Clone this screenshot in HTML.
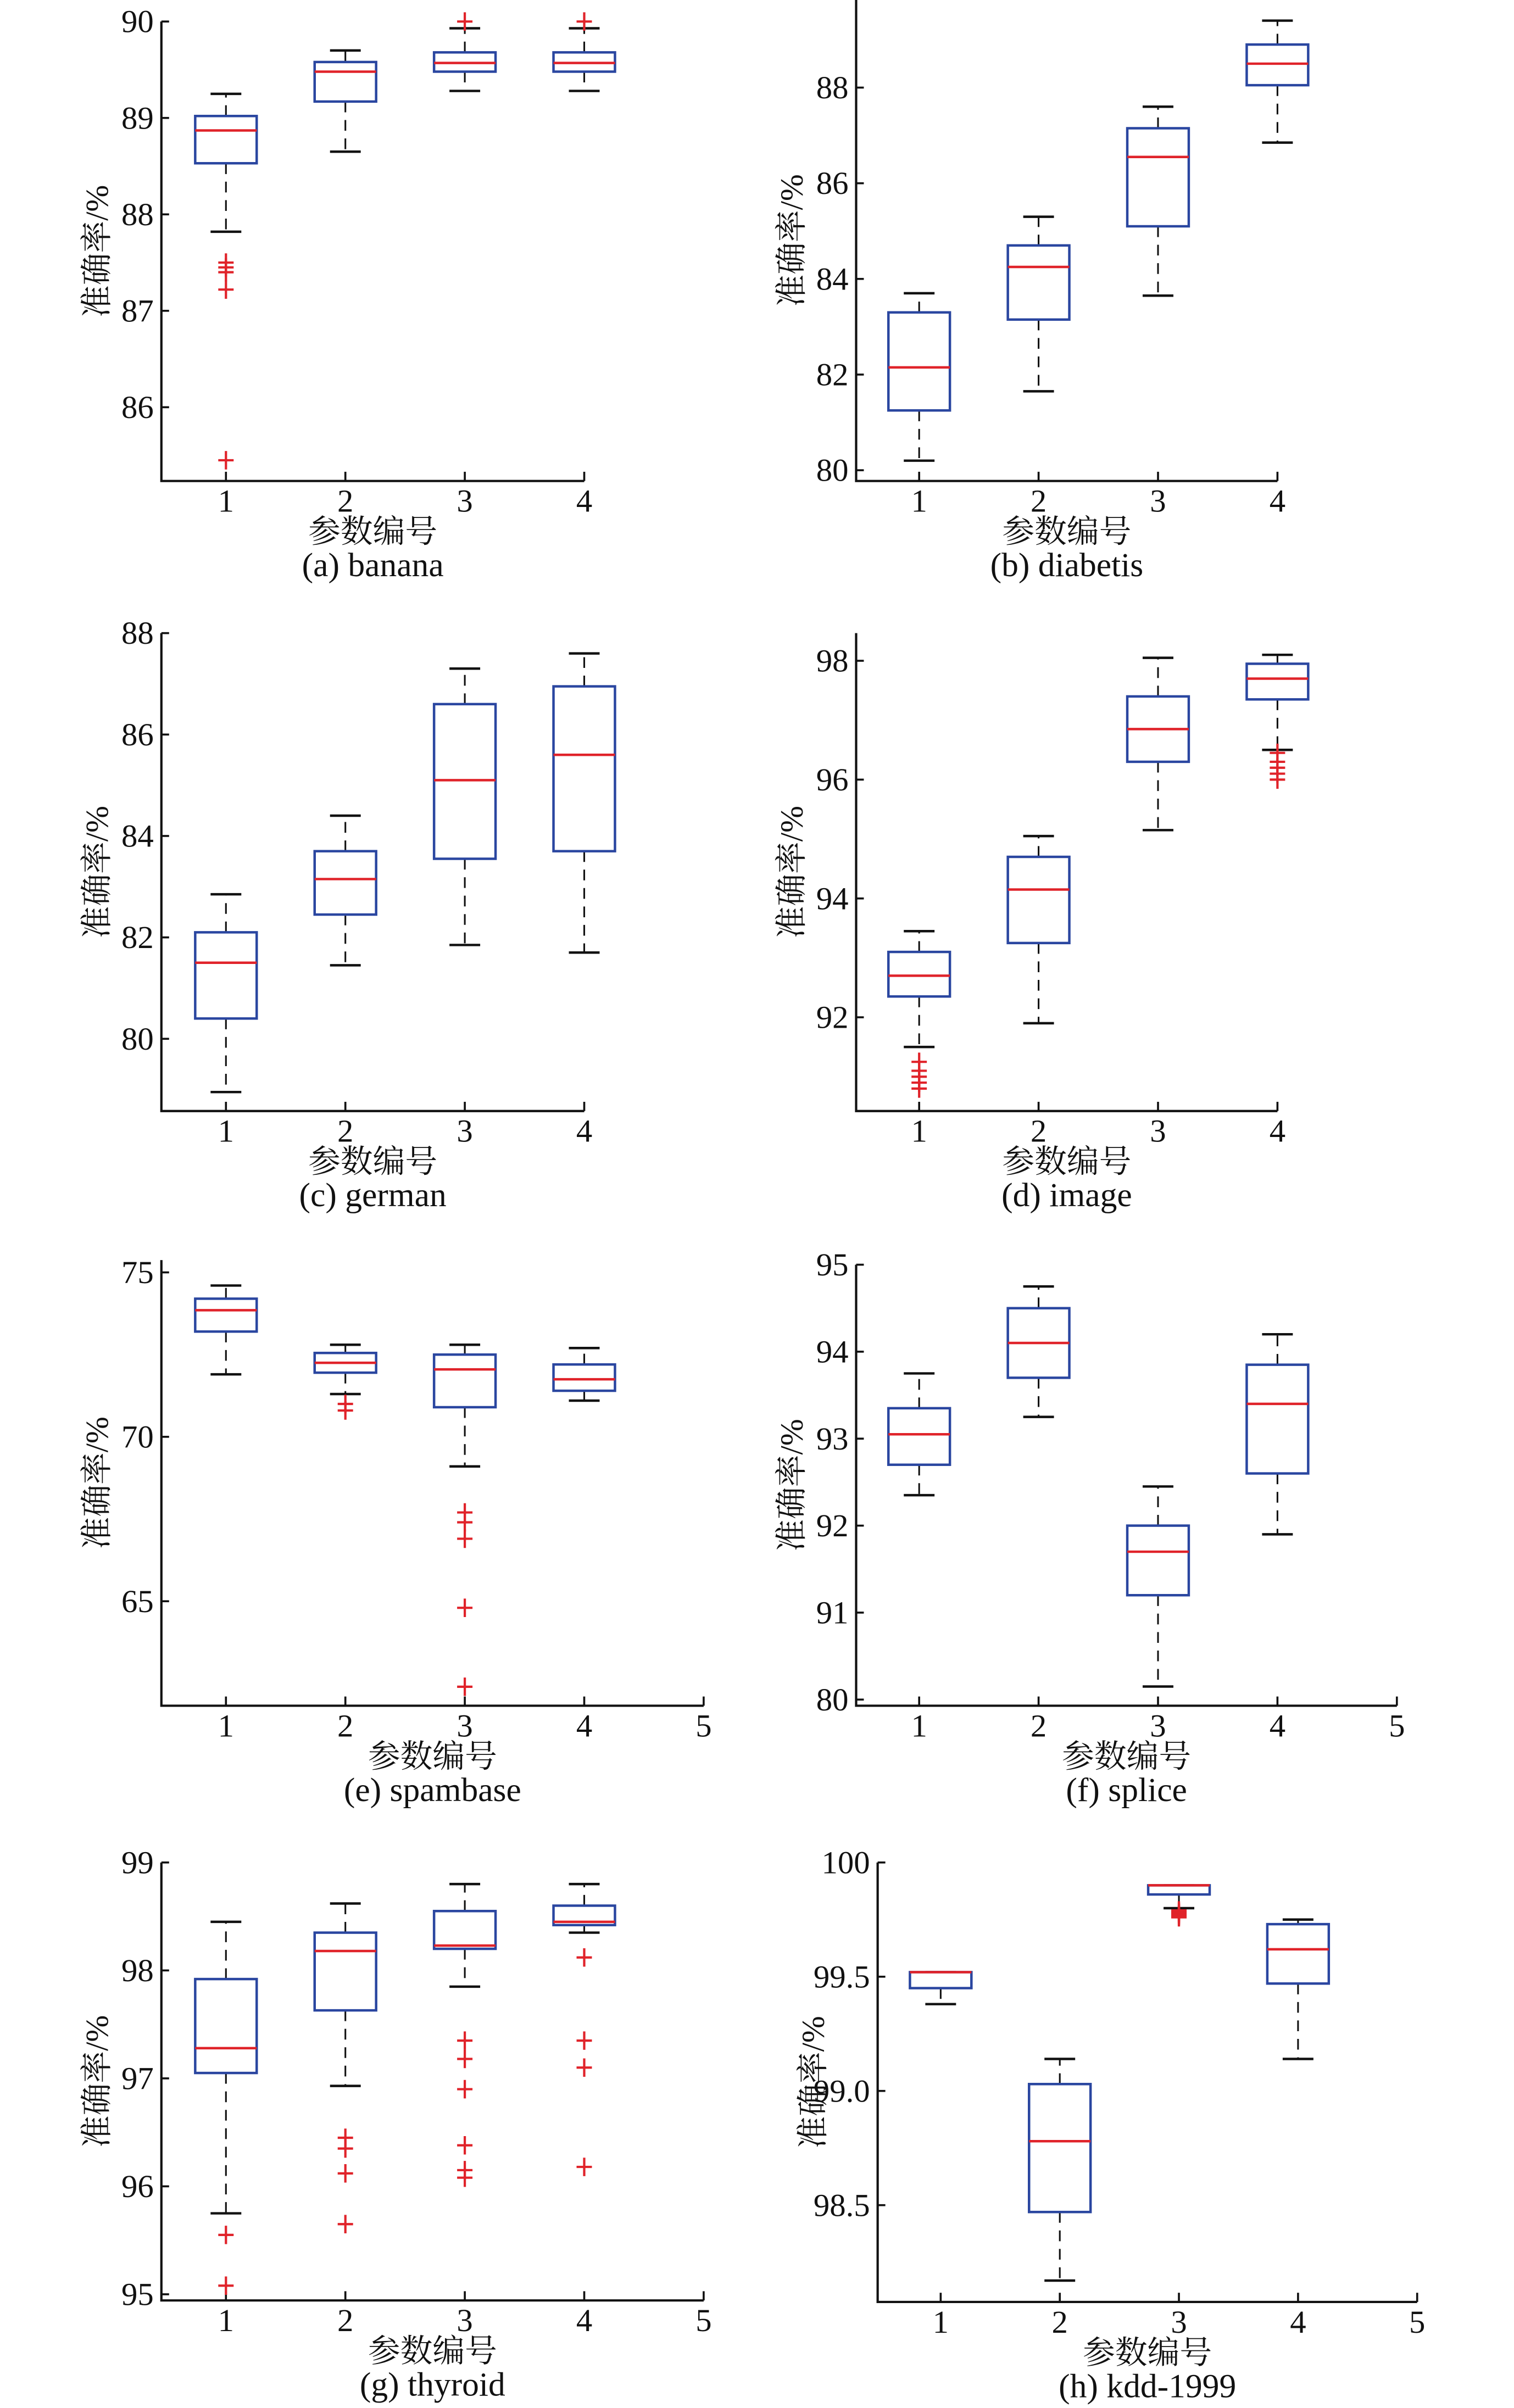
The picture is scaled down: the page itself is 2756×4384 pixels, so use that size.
<!DOCTYPE html>
<html><head><meta charset="utf-8"><style>
html,body{margin:0;padding:0;background:#fff;}
svg{display:block;}
text{font-family:"Liberation Serif","Noto Serif CJK SC",serif;fill:#111;}
</style></head><body>
<svg id="fig" width="2756" height="4384" viewBox="0 0 985 1567" preserveAspectRatio="none" xmlns="http://www.w3.org/2000/svg"></svg>
<script>
// ---------- data ----------
const bananaLo=[87.82,88.65,89.28,89.28], bananaQ1=[88.53,89.17,89.48,89.48], bananaMed=[88.87,89.48,89.57,89.57], bananaQ3=[89.02,89.58,89.68,89.68], bananaHi=[89.25,89.7,89.93,89.93];
const bananaOut=[[87.5,87.45,87.4,87.22,85.45],[],[90.0],[90.0]];
const diabetisLo=[80.2,81.65,83.65,86.85], diabetisQ1=[81.25,83.15,85.1,88.05], diabetisMed=[82.15,84.25,86.55,88.5], diabetisQ3=[83.3,84.7,87.15,88.9], diabetisHi=[83.7,85.3,87.6,89.4];
const diabetisOut=[[],[],[],[]];
const germanLo=[78.95,81.45,81.85,81.7], germanQ1=[80.4,82.45,83.55,83.7], germanMed=[81.5,83.15,85.1,85.6], germanQ3=[82.1,83.7,86.6,86.95], germanHi=[82.85,84.4,87.3,87.6];
const germanOut=[[],[],[],[]];
const imageLo=[91.5,91.9,95.15,96.5], imageQ1=[92.35,93.25,96.3,97.35], imageMed=[92.7,94.15,96.85,97.7], imageQ3=[93.1,94.7,97.4,97.95], imageHi=[93.45,95.05,98.05,98.1];
const imageOut=[[91.25,91.1,91.0,90.9,90.8],[],[],[96.45,96.3,96.2,96.1,96.0]];
const spamLo=[71.9,71.3,69.1,71.1], spamQ1=[73.2,71.95,70.9,71.4], spamMed=[73.85,72.25,72.05,71.75], spamQ3=[74.2,72.55,72.5,72.2], spamHi=[74.6,72.8,72.8,72.7];
const spamOut=[[],[71.0,70.8],[67.7,67.4,66.9,64.8,62.4],[]];
const spliceLo=[92.35,93.25,90.15,91.9], spliceQ1=[92.7,93.7,91.2,92.6], spliceMed=[93.05,94.1,91.7,93.4], spliceQ3=[93.35,94.5,92.0,93.85], spliceHi=[93.75,94.75,92.45,94.2];
const spliceOut=[[],[],[],[]];
const thyroidLo=[95.75,96.93,97.85,98.35], thyroidQ1=[97.05,97.63,98.2,98.42], thyroidMed=[97.28,98.18,98.23,98.45], thyroidQ3=[97.92,98.35,98.55,98.6], thyroidHi=[98.45,98.62,98.8,98.8];
const thyroidOut=[[95.55,95.08],[96.45,96.35,96.12,95.65],[97.35,97.18,96.9,96.38,96.15,96.08],[98.12,97.35,97.1,96.18]];
const kddLo=[99.38,98.17,99.8,99.14], kddQ1=[99.45,98.47,99.86,99.47], kddMed=[99.52,98.78,99.9,99.62], kddQ3=[99.52,99.03,99.9,99.73], kddHi=[99.52,99.14,99.9,99.75];
const kddOut=[[],[],[99.79,99.785,99.78,99.775,99.77,99.765,99.76],[]];
const bananaTicks=[86,87,88,89,90], diabetisTicks=[80,82,84,86,88], germanTicks=[80,82,84,86,88], imageTicks=[92,94,96,98];
const spamTicks=[65,70,75], spliceTicks=[90,91,92,93,94,95], spliceTickLabels=["80","91","92","93","94","95"];
const thyroidTicks=[95,96,97,98,99], kddTicks=[98.5,99.0,99.5,100], kddTickLabels=["98.5","99.0","99.5","100"];
const xTicks4=[1,2,3,4], xTicks5=[1,2,3,4,5];

// ---------- layout ----------
const panels=[
 {id:'banana',cap:'(a) banana',ax:105,x1:147,dx:77.7,nx:4,top:14,bot:313,v1:90,p1:14,v2:86,p2:265,d:[bananaLo,bananaQ1,bananaMed,bananaQ3,bananaHi,bananaOut],t:bananaTicks},
 {id:'diabetis',cap:'(b) diabetis',ax:557,x1:598,dx:77.7,nx:4,top:0,bot:313,v1:88,p1:57,v2:80,p2:306,d:[diabetisLo,diabetisQ1,diabetisMed,diabetisQ3,diabetisHi,diabetisOut],t:diabetisTicks},
 {id:'german',cap:'(c) german',ax:105,x1:147,dx:77.7,nx:4,top:412,bot:723,v1:88,p1:412,v2:80,p2:676,d:[germanLo,germanQ1,germanMed,germanQ3,germanHi,germanOut],t:germanTicks},
 {id:'image',cap:'(d) image',ax:557,x1:598,dx:77.7,nx:4,top:412,bot:723,v1:98,p1:430,v2:92,p2:662,d:[imageLo,imageQ1,imageMed,imageQ3,imageHi,imageOut],t:imageTicks},
 {id:'spambase',cap:'(e) spambase',ax:105,x1:147,dx:77.7,nx:5,top:820,bot:1110,v1:75,p1:828,v2:65,p2:1042,d:[spamLo,spamQ1,spamMed,spamQ3,spamHi,spamOut],t:spamTicks},
 {id:'splice',cap:'(f) splice',ax:557,x1:598,dx:77.7,nx:5,top:823,bot:1110,v1:95,p1:823,v2:90,p2:1106,d:[spliceLo,spliceQ1,spliceMed,spliceQ3,spliceHi,spliceOut],t:spliceTicks,tl:spliceTickLabels},
 {id:'thyroid',cap:'(g) thyroid',ax:105,x1:147,dx:77.7,nx:5,top:1212,bot:1497,v1:99,p1:1212,v2:95,p2:1493,d:[thyroidLo,thyroidQ1,thyroidMed,thyroidQ3,thyroidHi,thyroidOut],t:thyroidTicks},
 {id:'kdd',cap:'(h) kdd-1999',ax:571,x1:612,dx:77.5,nx:5,top:1212,bot:1498,v1:100,p1:1212,v2:98.5,p2:1435,d:[kddLo,kddQ1,kddMed,kddQ3,kddHi,kddOut],t:kddTicks,tl:kddTickLabels}
];
const svg=document.getElementById('fig');
const NS='http://www.w3.org/2000/svg';
function mk(tag,attrs,parent){const e=document.createElementNS(NS,tag);for(const k in attrs)e.setAttribute(k,attrs[k]);parent.appendChild(e);return e;}
panels.forEach(P=>{
 const g=mk('g',{},svg);
 
 
 const y=v=>P.p1+(P.v1-v)*(P.p2-P.p1)/(P.v1-P.v2);
 const x=i=>P.x1+(i-1)*P.dx;
 const xEnd=x(P.nx);
 const axes=mk('path',{d:`M${P.ax} ${P.top}V${P.bot}H${xEnd}`,fill:'none',stroke:'#111','stroke-width':1.5},g);
 
 
 P.t.forEach((tv,k)=>{
  const yy=y(tv);
  mk('line',{x1:P.ax,x2:P.ax+5,y1:yy,y2:yy,stroke:'#111','stroke-width':1.3},g);
  const t=mk('text',{x:P.ax-5,y:yy+7,'text-anchor':'end','font-size':21},g);
  t.textContent=P.tl?P.tl[k]:String(tv);
  
  
 });
 const xt=P.nx===5?xTicks5:xTicks4;
 xt.forEach(i=>{
  mk('line',{x1:x(i),x2:x(i),y1:P.bot,y2:P.bot-6,stroke:'#111','stroke-width':1.3},g);
  const t=mk('text',{x:x(i),y:P.bot+20,'text-anchor':'middle','font-size':21},g);
  t.textContent=String(i);
  
  
 });
 const cx=(P.ax+xEnd)/2;
 const xl=mk('text',{x:cx,y:P.bot+40,'text-anchor':'middle','font-size':21},g);
 xl.textContent='参数编号';
 
 
 const cp=mk('text',{x:cx,y:P.bot+62,'text-anchor':'middle','font-size':22},g);
 cp.textContent=P.cap;
 
 
 const ym=(P.top+P.bot)/2;
 const yl=mk('text',{x:0,y:0,'text-anchor':'middle','font-size':21,transform:`translate(${P.ax-35},${ym}) rotate(-90)`},g);
 yl.textContent='准确率/%';
 
 
 const [lo,q1,md,q3,hi,out]=P.d;
 for(let i=0;i<lo.length;i++){
  const bx=x(i+1), hw=20, cw=10;
  const bg=mk('g',{},g);
  
  
  if(hi[i]>q3[i]) mk('line',{x1:bx,x2:bx,y1:y(q3[i]),y2:y(hi[i]),stroke:'#111','stroke-width':1.1,'stroke-dasharray':'7 5'},bg);
  if(lo[i]<q1[i]) mk('line',{x1:bx,x2:bx,y1:y(q1[i]),y2:y(lo[i]),stroke:'#111','stroke-width':1.1,'stroke-dasharray':'7 5'},bg);
  mk('line',{x1:bx-cw,x2:bx+cw,y1:y(hi[i]),y2:y(hi[i]),stroke:'#111','stroke-width':1.6},bg);
  mk('line',{x1:bx-cw,x2:bx+cw,y1:y(lo[i]),y2:y(lo[i]),stroke:'#111','stroke-width':1.6},bg);
  mk('rect',{x:bx-hw,y:y(q3[i]),width:2*hw,height:Math.max(1,y(q1[i])-y(q3[i])),fill:'#fff',stroke:'#2a46a0','stroke-width':1.6},bg);
  mk('line',{x1:bx-hw,x2:bx+hw,y1:y(md[i]),y2:y(md[i]),stroke:'#e0232a','stroke-width':1.6},bg);
  out[i].forEach(v=>{
   const oy=y(v);
   const o=mk('path',{d:`M${bx-5} ${oy}H${bx+5}M${bx} ${oy-6}V${oy+6}`,stroke:'#e0232a','stroke-width':1.5,fill:'none'},bg);
   
   
  });
 }
});
</script>
</body></html>
